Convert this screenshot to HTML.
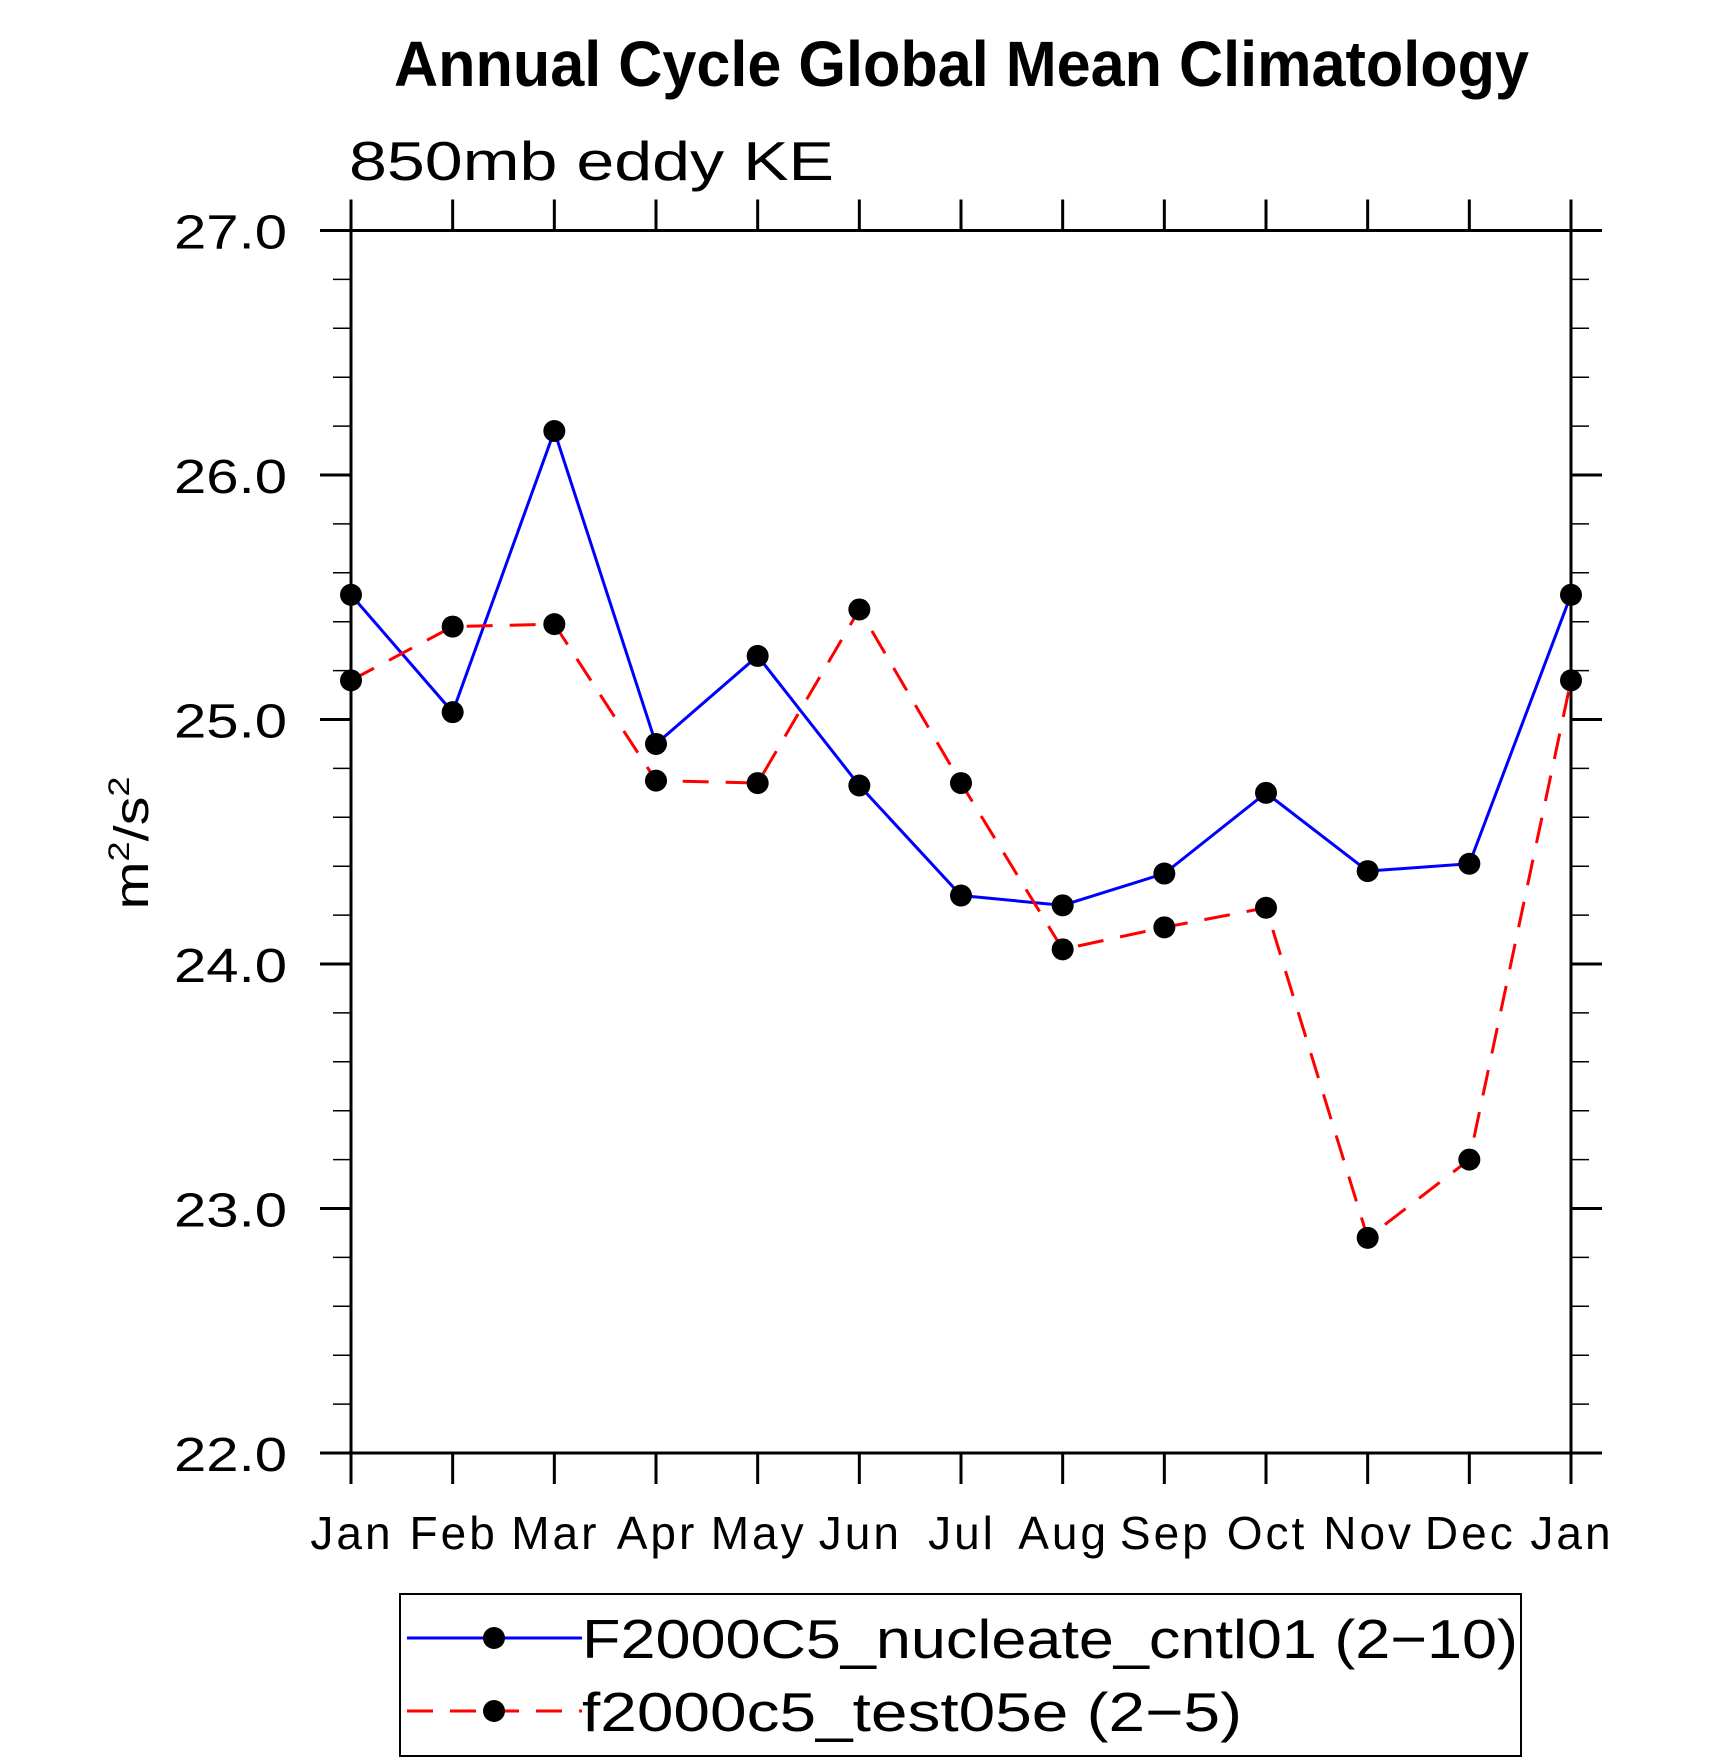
<!DOCTYPE html>
<html><head><meta charset="utf-8"><style>
html,body{margin:0;padding:0;background:#fff}
svg{display:block}
text{font-family:"Liberation Sans",sans-serif}
</style></head><body>
<svg id="chart" width="1710" height="1762" viewBox="0 0 1710 1762" xmlns="http://www.w3.org/2000/svg">
<text x="394" y="86" font-size="64" font-weight="bold" textLength="1135" lengthAdjust="spacingAndGlyphs">Annual Cycle Global Mean Climatology</text>
<text x="349" y="180" font-size="55" textLength="485" lengthAdjust="spacingAndGlyphs">850mb eddy KE</text>
<text transform="translate(148,843) rotate(-90)" text-anchor="middle" font-size="48" textLength="133" lengthAdjust="spacingAndGlyphs">m<tspan font-size="30" dy="-19">2</tspan><tspan dy="19">/s</tspan><tspan font-size="30" dy="-19">2</tspan></text>
<g id="axes"></g>
<g id="series"></g>
<g>
<rect x="400" y="1594" width="1121" height="162" fill="none" stroke="#000" stroke-width="2"/>
<g>
<line x1="407" y1="1638" x2="582" y2="1638" stroke="#0000ff" stroke-width="3"/>
<circle cx="494" cy="1638" r="11" fill="#000"/>
<text x="582" y="1658" font-size="55" textLength="936" lengthAdjust="spacingAndGlyphs">F2000C5_nucleate_cntl01 (2−10)</text>
</g>
<g>
<line x1="407" y1="1711" x2="582" y2="1711" stroke="#ff0000" stroke-width="3" stroke-dasharray="26,17"/>
<circle cx="494" cy="1711" r="11" fill="#000"/>
<text x="582" y="1731" font-size="55" textLength="660" lengthAdjust="spacingAndGlyphs">f2000c5_test05e (2−5)</text>
</g>
</g>
</svg>
<script>
const months = ["Jan","Feb","Mar","Apr","May","Jun","Jul","Aug","Sep","Oct","Nov","Dec","Jan"];
const cntlValues = [25.51,25.03,26.18,24.90,25.26,24.73,24.28,24.24,24.37,24.70,24.38,24.41,25.51];
const testValues = [25.16,25.38,25.39,24.75,24.74,25.45,24.74,24.06,24.15,24.23,22.88,23.20,25.16];
const yTicks = [22,23,24,25,26,27];
const yTickLabels = ["22.0","23.0","24.0","25.0","26.0","27.0"];

const L=351,R=1571,T=230.5,B=1453,YMIN=22,YMAX=27;
const NS="http://www.w3.org/2000/svg";
function xs(i){return L+(R-L)*i/(months.length-1);}
function ys(v){return B-(B-T)*(v-YMIN)/(YMAX-YMIN);}
function mk(tag,attrs,parent){const e=document.createElementNS(NS,tag);for(const k in attrs)e.setAttribute(k,attrs[k]);parent.appendChild(e);return e;}
const axes=document.getElementById('axes');
const frame=mk('rect',{x:L,y:T,width:R-L,height:B-T,fill:'none',stroke:'#000','stroke-width':3},axes);


months.forEach((m,i)=>{
  const x=xs(i);
  mk('line',{x1:x,y1:B,x2:x,y2:B+31,stroke:'#000','stroke-width':3},axes);
  mk('line',{x1:x,y1:T,x2:x,y2:T-31,stroke:'#000','stroke-width':3},axes);
  const t=mk('text',{x:x+1,y:B+96,'text-anchor':'middle','font-size':'46','letter-spacing':'3'},axes);
  t.textContent=m;
  
  
});
for(let k=0;k<=25;k++){
  const v=YMIN+k*0.2, y=ys(v);
  const major=(k%5===0);
  const len=major?31:18;
  mk('line',{x1:L-len,y1:y,x2:L,y2:y,stroke:'#000','stroke-width':major?3:1.5},axes);
  mk('line',{x1:R,y1:y,x2:R+len,y2:y,stroke:'#000','stroke-width':major?3:1.5},axes);
}
yTicks.forEach((v,i)=>{
  const t=mk('text',{x:287,y:ys(v)+18,'text-anchor':'end','font-size':'48',textLength:113,lengthAdjust:'spacingAndGlyphs'},axes);
  t.textContent=yTickLabels[i];
  
  
});
const series=document.getElementById('series');
function drawSeries(vals,color,dash,name){
  const g=mk('g',{},series);
  
  
  const pts=vals.map((v,i)=>xs(i)+','+ys(v)).join(' ');
  const a={points:pts,fill:'none',stroke:color,'stroke-width':3};
  if(dash)a['stroke-dasharray']=dash;
  const pl=mk('polyline',a,g);
  
  
  vals.forEach((v,i)=>{
    const c=mk('circle',{cx:xs(i),cy:ys(v),r:11,fill:'#000'},g);
    
    
  });
}
drawSeries(cntlValues,'#0000ff',null,'series-cntl');
drawSeries(testValues,'#ff0000','26,17','series-test');
</script>
</body></html>
